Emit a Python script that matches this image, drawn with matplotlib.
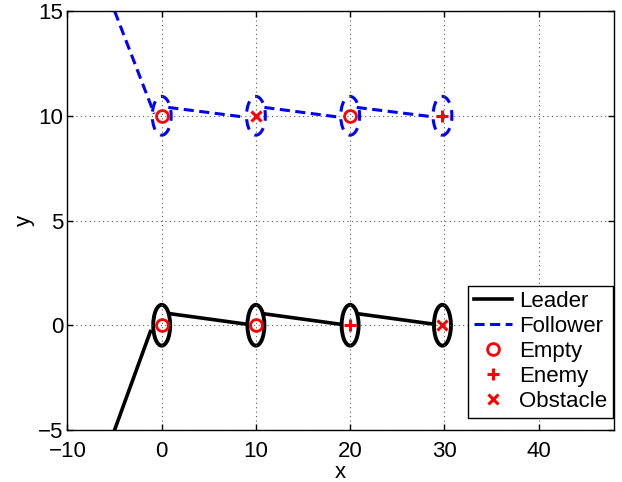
import numpy as np
import matplotlib
matplotlib.use('Agg')  # noqa
import matplotlib.pyplot as plt
from matplotlib.patches import Ellipse

# waypoint positions (loiter ellipses) for each vehicle
leader_cx = [0, 10, 20, 29.8]
leader_cy = [0, 0, 0, 0]
follower_cx = [0, 10, 20, 29.8]
follower_cy = [10, 10, 10, 10]

# trajectory pieces between the loiters, nan breaks the line
leader_x = [-5.0, -1.2, np.nan, 0.9, 9.0, np.nan, 10.8, 18.9, np.nan, 20.8, 28.9]
leader_y = [-5.0, -0.3, np.nan, 0.55, 0.05, np.nan, 0.55, 0.05, np.nan, 0.55, 0.05]
follower_x = [-5.0, -0.8, np.nan, 0.7, 8.6, np.nan, 10.9, 18.6, np.nan, 20.7, 28.8]
follower_y = [15.0, 10.1, np.nan, 10.4, 9.95, np.nan, 10.4, 9.95, np.nan, 10.4, 9.95]

# classified targets
empty_x = [0, 10, 0, 20]
empty_y = [0, 0, 10, 10]
enemy_x = [20, 29.8]
enemy_y = [0, 10]
obstacle_x = [29.8, 10]
obstacle_y = [0, 10]

plt.rcParams['font.family'] = ['Liberation Sans', 'DejaVu Sans']
plt.rcParams['font.size'] = 16

fig = plt.figure(figsize=(6.22, 4.82), dpi=100)
ax = fig.add_axes([0.1085, 0.108, 0.8785, 0.869])

ax.plot(leader_x, leader_y, color='black', lw=2.6, label='Leader')
ax.plot(follower_x, follower_y, color='blue', lw=2.2, dashes=(3.3, 1.8),
        label='Follower')
for cx, cy in zip(leader_cx, leader_cy):
    ax.add_patch(Ellipse((cx, cy), 1.8, 1.95, fill=False, ec='black', lw=2.8))
for cx, cy in zip(follower_cx, follower_cy):
    ax.add_patch(Ellipse((cx, cy), 2.0, 1.85, fill=False, ec='blue', lw=2.2,
                         linestyle=(0, (3.5, 2.5))))

ax.plot(empty_x, empty_y, 'o', color='red', mfc='none', ms=8.5, mew=2,
        ls='none', label='Empty')
ax.plot(enemy_x, enemy_y, '+', color='red', ms=9, mew=2.2, ls='none',
        label='Enemy')
ax.plot(obstacle_x, obstacle_y, 'x', color='red', ms=6.5, mew=2.2, ls='none',
        label='Obstacle')

ax.set_xlim(-10, 48)
ax.set_ylim(-5, 15)
ax.set_xticks([-10, 0, 10, 20, 30, 40])
ax.set_yticks([-5, 0, 5, 10, 15])
ax.tick_params(direction='in', top=True, right=True, length=4, width=1,
               labelsize=16)
ax.tick_params(axis='x', pad=8)
ax.tick_params(axis='y', pad=3)
for s in ax.spines.values():
    s.set_linewidth(1)
ax.grid(True, color='0.35', linestyle=(0, (1, 3)), linewidth=0.8)
ax.set_xlabel('x', labelpad=0)
ax.set_ylabel('y', labelpad=2)

leg = ax.legend(loc='lower right', bbox_to_anchor=(0.998, 0.029),
                borderaxespad=0, fancybox=False, framealpha=1,
                edgecolor='black', handlelength=1.75, handletextpad=0.3,
                labelspacing=0.18, borderpad=0.25, fontsize=16)
leg.get_frame().set_linewidth(1)

plt.savefig('out.png', dpi=100)
